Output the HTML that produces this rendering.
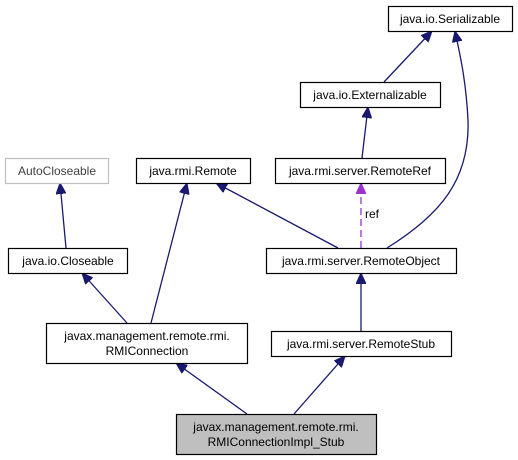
<!DOCTYPE html>
<html><head><meta charset="utf-8"><style>
html,body{margin:0;padding:0;background:#fff;}
svg{display:block;}
text{font-family:"Liberation Sans",Arial,sans-serif;font-size:12px;fill:#000;}
</style></head><body>
<svg width="518" height="460" viewBox="0 0 518 460" xmlns="http://www.w3.org/2000/svg">
<defs>
<marker id="a" markerUnits="userSpaceOnUse" markerWidth="12" markerHeight="10" refX="11" refY="5" orient="auto">
<path d="M0,0 L11,5 L0,10 Z" fill="#191970" stroke="#191970"/>
</marker>
<marker id="p" markerUnits="userSpaceOnUse" markerWidth="12" markerHeight="10" refX="11" refY="5" orient="auto">
<path d="M0,0 L11,5 L0,10 Z" fill="#9a32cd" stroke="#9a32cd"/>
</marker>
</defs>
<g fill="none" stroke="#191970" stroke-width="1.3">
<path d="M384,82 L432,31" marker-end="url(#a)"/>
<path d="M387,248 C440,215 470,180 468,120 C466,80 460,55 455,31" marker-end="url(#a)"/>
<path d="M362,158 L368,107" marker-end="url(#a)"/>
<path d="M338,248 L216,183" marker-end="url(#a)"/>
<path d="M66,248 L60,183" marker-end="url(#a)"/>
<path d="M127,323 L82,273" marker-end="url(#a)"/>
<path d="M151,323 L187,183" marker-end="url(#a)"/>
<path d="M361,331 L361,273" marker-end="url(#a)"/>
<path d="M247,414 L176,363" marker-end="url(#a)"/>
<path d="M294,414 L345,356" marker-end="url(#a)"/>
</g>
<path d="M361,248 L361,183" fill="none" stroke="#9a32cd" stroke-width="1.3" stroke-dasharray="7,4" marker-end="url(#p)"/>
<text x="365" y="218">ref</text>
<g stroke-width="1.2" fill="#fff" stroke="#000">
<rect x="388.5" y="6.5" width="124" height="25"/>
<rect x="300.5" y="82.5" width="140" height="25"/>
<rect x="5.5" y="158.5" width="103" height="25" stroke="#bfbfbf"/>
<rect x="136.5" y="158.5" width="114" height="25"/>
<rect x="275.5" y="158.5" width="170" height="25"/>
<rect x="8.5" y="248.5" width="119" height="25"/>
<rect x="266.5" y="248.5" width="190" height="25"/>
<rect x="46.5" y="323.5" width="201" height="40"/>
<rect x="271.5" y="331.5" width="180" height="25"/>
<rect x="176.5" y="414.5" width="200" height="40" fill="#bfbfbf"/>
</g>
<g text-anchor="middle">
<text x="450" y="23">java.io.Serializable</text>
<text x="370" y="99">java.io.Externalizable</text>
<text x="57" y="175" style="fill:#404040">AutoCloseable</text>
<text x="193" y="175">java.rmi.Remote</text>
<text x="360" y="175">java.rmi.server.RemoteRef</text>
<text x="68" y="265">java.io.Closeable</text>
<text x="361" y="265">java.rmi.server.RemoteObject</text>
<text x="147" y="340">javax.management.remote.rmi.</text>
<text x="147" y="355">RMIConnection</text>
<text x="361" y="348">java.rmi.server.RemoteStub</text>
<text x="276" y="431">javax.management.remote.rmi.</text>
<text x="276" y="446">RMIConnectionImpl_Stub</text>
</g>
</svg>
</body></html>
